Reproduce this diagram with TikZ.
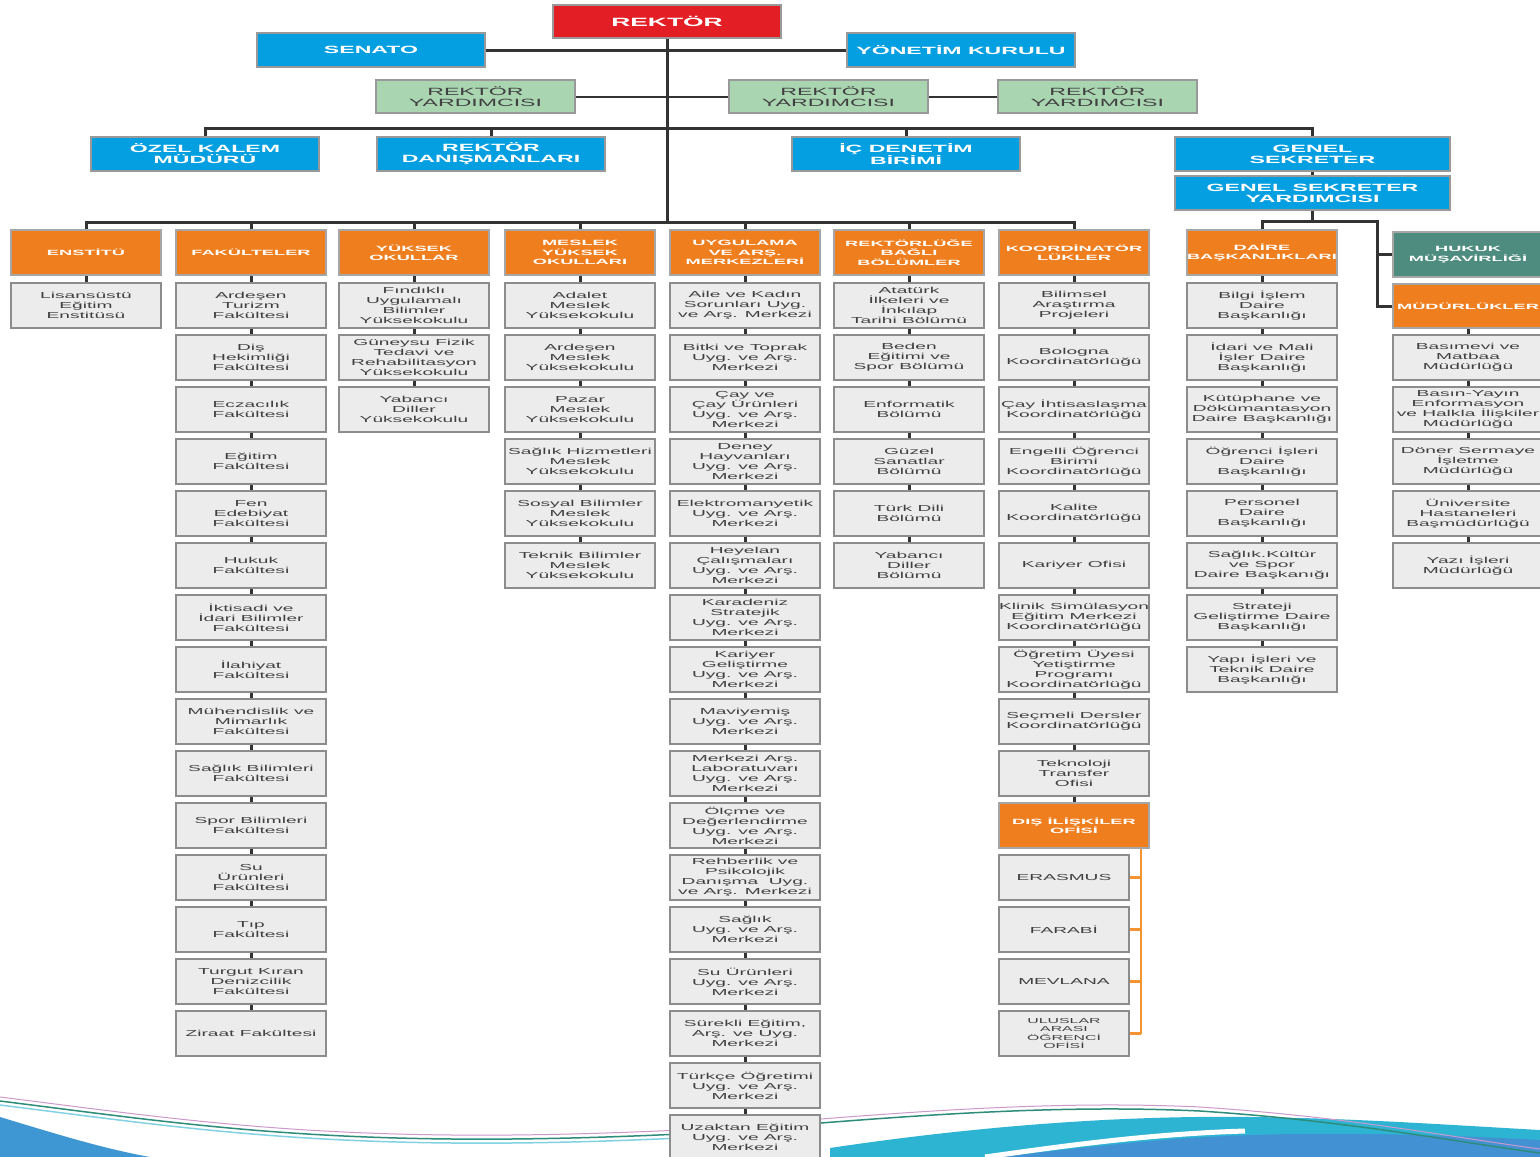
\documentclass[tikz,border=0pt]{standalone}
\usepackage{fontspec}
\setmainfont{Liberation Sans}
\newfontfamily\boxfont[FakeStretch=2.2]{Liberation Sans}
\newfontfamily\hdrfont[FakeStretch=2.4]{Liberation Sans}
\usetikzlibrary{backgrounds}
\definecolor{rektorred}{HTML}{E31E24}
\definecolor{kurulblue}{HTML}{049FE0}
\definecolor{yardgreen}{HTML}{A9D5B1}
\definecolor{birimorange}{HTML}{EE7E1E}
\definecolor{hukukteal}{HTML}{4D8C7E}
\definecolor{unitgray}{HTML}{ECECEC}
\definecolor{linkgray}{HTML}{333333}
\definecolor{disorange}{HTML}{F39332}
\definecolor{wavteal}{HTML}{2EB4D3}
\definecolor{wavblue}{HTML}{4191D3}
\definecolor{wavline}{HTML}{2E8C7A}

\begin{document}
\begin{tikzpicture}[x=1pt,y=-1pt,
  unit/.style={draw=black!45,line width=1.2pt,fill=unitgray,minimum width=150pt,minimum height=45pt,inner sep=0pt,align=center,text=black!75,font=\boxfont\fontsize{8.7}{10}\selectfont},
  head/.style={unit,fill=birimorange,draw=black!35,text=white,font=\hdrfont\bfseries\fontsize{7.6}{9.4}\selectfont},
  kurul/.style={draw=black!40,line width=1.2pt,fill=kurulblue,text=white,minimum width=228pt,minimum height=34pt,inner sep=0pt,align=center,font=\boxfont\bfseries\fontsize{10.5}{11}\selectfont},
  yard/.style={kurul,fill=yardgreen,text=black!75,minimum width=199pt,minimum height=33pt,font=\boxfont\fontsize{10.5}{11}\selectfont},
  link/.style={draw=linkgray,line width=3pt},
  dislink/.style={draw=disorange,line width=2.5pt}]
\useasboundingbox (0,0) rectangle (1540,1157);

% top of the chart
\node[kurul,fill=rektorred,minimum height=33pt,font=\boxfont\bfseries\fontsize{12}{13}\selectfont] (rektor) at (667,21.5) {REKTÖR};
\node[kurul] (senato) at (371,50) {SENATO};
\node[kurul] (yonetim) at (961,50) {YÖNETİM KURULU};
\node[yard] (ry1) at (475.5,96.5) {REKTÖR\\YARDIMCISI};
\node[yard] (ry2) at (828.5,96.5) {REKTÖR\\YARDIMCISI};
\node[yard] (ry3) at (1097.5,96.5) {REKTÖR\\YARDIMCISI};
\node[kurul] (ozel) at (205,154) {ÖZEL KALEM\\MÜDÜRÜ};
\node[kurul] (dan) at (491,154) {REKTÖR\\DANIŞMANLARI};
\node[kurul] (icd) at (906,154) {İÇ DENETİM\\BİRİMİ};
\node[kurul,minimum width=275pt] (gensek) at (1312.5,154) {GENEL\\SEKRETER};
\node[kurul,minimum width=275pt] (gsy) at (1312.5,193) {GENEL SEKRETER\\YARDIMCISI};

% orange heads
\node[head] (enst) at (86,252.5) {ENSTİTÜ};
\node[head] (fak) at (251,252.5) {FAKÜLTELER};
\node[head] (yuk) at (414,252.5) {YÜKSEK\\OKULLAR};
\node[head] (mes) at (580,252.5) {MESLEK\\YÜKSEK\\OKULLARI};
\node[head] (uyg) at (745,252.5) {UYGULAMA\\VE ARŞ.\\MERKEZLERİ};
\node[head] (bol) at (909,252.5) {REKTÖRLÜĞE\\BAĞLI\\BÖLÜMLER};
\node[head] (koo) at (1074,252.5) {KOORDİNATÖR\\LÜKLER};
\node[head] (dai) at (1262,252.5) {DAİRE\\BAŞKANLIKLARI};
\node[head,fill=hukukteal] (huk) at (1468,254.5) {HUKUK\\MÜŞAVİRLİĞİ};
\node[head,minimum height=44pt] (mud) at (1468,306) {MÜDÜRLÜKLER};

% enstitu
\node[unit] (enst1) at (86,305.5) {Lisansüstü\\Eğitim\\Enstitüsü};

% fakulteler
\node[unit] (fak1) at (251,305.5) {Ardeşen\\Turizm\\Fakültesi};
\node[unit] (fak2) at (251,357.5) {Diş\\Hekimliği\\Fakültesi};
\node[unit] (fak3) at (251,409.5) {Eczacılık\\Fakültesi};
\node[unit] (fak4) at (251,461.5) {Eğitim\\Fakültesi};
\node[unit] (fak5) at (251,513.5) {Fen\\Edebiyat\\Fakültesi};
\node[unit] (fak6) at (251,565.5) {Hukuk\\Fakültesi};
\node[unit] (fak7) at (251,617.5) {İktisadi ve\\İdari Bilimler\\Fakültesi};
\node[unit] (fak8) at (251,669.5) {İlahiyat\\Fakültesi};
\node[unit] (fak9) at (251,721.5) {Mühendislik ve\\Mimarlık\\Fakültesi};
\node[unit] (fak10) at (251,773.5) {Sağlık Bilimleri\\Fakültesi};
\node[unit] (fak11) at (251,825.5) {Spor Bilimleri\\Fakültesi};
\node[unit] (fak12) at (251,877.5) {Su\\Ürünleri\\Fakültesi};
\node[unit] (fak13) at (251,929.5) {Tıp\\Fakültesi};
\node[unit] (fak14) at (251,981.5) {Turgut Kıran\\Denizcilik\\Fakültesi};
\node[unit] (fak15) at (251,1033.5) {Ziraat Fakültesi};

% yuksekokullar
\node[unit] (yuk1) at (414,305.5) {Fındıklı\\Uygulamalı\\Bilimler\\Yüksekokulu};
\node[unit] (yuk2) at (414,357.5) {Güneysu Fizik\\Tedavi ve\\Rehabilitasyon\\Yüksekokulu};
\node[unit] (yuk3) at (414,409.5) {Yabancı\\Diller\\Yüksekokulu};

% meslek yuksekokullari
\node[unit] (mes1) at (580,305.5) {Adalet\\Meslek\\Yüksekokulu};
\node[unit] (mes2) at (580,357.5) {Ardeşen\\Meslek\\Yüksekokulu};
\node[unit] (mes3) at (580,409.5) {Pazar\\Meslek\\Yüksekokulu};
\node[unit] (mes4) at (580,461.5) {Sağlık Hizmetleri\\Meslek\\Yüksekokulu};
\node[unit] (mes5) at (580,513.5) {Sosyal Bilimler\\Meslek\\Yüksekokulu};
\node[unit] (mes6) at (580,565.5) {Teknik Bilimler\\Meslek\\Yüksekokulu};

% merkezler
\node[unit] (uyg1) at (745,305.5) {Aile ve Kadın\\Sorunları Uyg.\\ve Arş. Merkezi};
\node[unit] (uyg2) at (745,357.5) {Bitki ve Toprak\\Uyg. ve Arş.\\Merkezi};
\node[unit] (uyg3) at (745,409.5) {Çay ve\\Çay Ürünleri\\Uyg. ve Arş.\\Merkezi};
\node[unit] (uyg4) at (745,461.5) {Deney\\Hayvanları\\Uyg. ve Arş.\\Merkezi};
\node[unit] (uyg5) at (745,513.5) {Elektromanyetik\\Uyg. ve Arş.\\Merkezi};
\node[unit] (uyg6) at (745,565.5) {Heyelan\\Çalışmaları\\Uyg. ve Arş.\\Merkezi};
\node[unit] (uyg7) at (745,617.5) {Karadeniz\\Stratejik\\Uyg. ve Arş.\\Merkezi};
\node[unit] (uyg8) at (745,669.5) {Kariyer\\Geliştirme\\Uyg. ve Arş.\\Merkezi};
\node[unit] (uyg9) at (745,721.5) {Maviyemiş\\Uyg. ve Arş.\\Merkezi};
\node[unit] (uyg10) at (745,773.5) {Merkezi Arş.\\Laboratuvarı\\Uyg. ve Arş.\\Merkezi};
\node[unit] (uyg11) at (745,825.5) {Ölçme ve\\Değerlendirme\\Uyg. ve Arş.\\Merkezi};
\node[unit] (uyg12) at (745,877.5) {Rehberlik ve\\Psikolojik\\Danışma\ \ Uyg.\\ve Arş. Merkezi};
\node[unit] (uyg13) at (745,929.5) {Sağlık\\Uyg. ve Arş.\\Merkezi};
\node[unit] (uyg14) at (745,981.5) {Su Ürünleri\\Uyg. ve Arş.\\Merkezi};
\node[unit] (uyg15) at (745,1033.5) {Sürekli Eğitim,\\Arş. ve Uyg.\\Merkezi};
\node[unit] (uyg16) at (745,1085.5) {Türkçe Öğretimi\\Uyg. ve Arş.\\Merkezi};
\node[unit] (uyg17) at (745,1137.5) {Uzaktan Eğitim\\Uyg. ve Arş.\\Merkezi};

% bolumler
\node[unit] (bol1) at (909,305.5) {Atatürk\\İlkeleri ve\\İnkılap\\Tarihi Bölümü};
\node[unit] (bol2) at (909,357.5) {Beden\\Eğitimi ve\\Spor Bölümü};
\node[unit] (bol3) at (909,409.5) {Enformatik\\Bölümü};
\node[unit] (bol4) at (909,461.5) {Güzel\\Sanatlar\\Bölümü};
\node[unit] (bol5) at (909,513.5) {Türk Dili\\Bölümü};
\node[unit] (bol6) at (909,565.5) {Yabancı\\Diller\\Bölümü};

% koordinatorlukler
\node[unit] (koo1) at (1074,305.5) {Bilimsel\\Araştırma\\Projeleri};
\node[unit] (koo2) at (1074,357.5) {Bologna\\Koordinatörlüğü};
\node[unit] (koo3) at (1074,409.5) {Çay İhtisaslaşma\\Koordinatörlüğü};
\node[unit] (koo4) at (1074,461.5) {Engelli Öğrenci\\Birimi\\Koordinatörlüğü};
\node[unit] (koo5) at (1074,513.5) {Kalite\\Koordinatörlüğü};
\node[unit] (koo6) at (1074,565.5) {Kariyer Ofisi};
\node[unit] (koo7) at (1074,617.5) {Klinik Simülasyon\\Eğitim Merkezi\\Koordinatörlüğü};
\node[unit] (koo8) at (1074,669.5) {Öğretim Üyesi\\Yetiştirme\\Programı\\Koordinatörlüğü};
\node[unit] (koo9) at (1074,721.5) {Seçmeli Dersler\\Koordinatörlüğü};
\node[unit] (koo10) at (1074,773.5) {Teknoloji\\Transfer\\Ofisi};
\node[head] (dis) at (1074,825.5) {DIŞ İLİŞKİLER\\OFİSİ};
\node[unit,minimum width=130pt] (eras) at (1064,877.5) {ERASMUS};
\node[unit,minimum width=130pt] (farabi) at (1064,929.5) {FARABİ};
\node[unit,minimum width=130pt] (mevlana) at (1064,981.5) {MEVLANA};
\node[unit,minimum width=130pt,font=\boxfont\fontsize{7.2}{8.3}\selectfont] (ulusl) at (1064,1033.5) {ULUSLAR\\ARASI\\ÖĞRENCİ\\OFİSİ};

% daire baskanliklari
\node[unit] (dai1) at (1262,305.5) {Bilgi İşlem\\Daire\\Başkanlığı};
\node[unit] (dai2) at (1262,357.5) {İdari ve Mali\\İşler Daire\\Başkanlığı};
\node[unit] (dai3) at (1262,409.5) {Kütüphane ve\\Dökümantasyon\\Daire Başkanlığı};
\node[unit] (dai4) at (1262,461.5) {Öğrenci İşleri\\Daire\\Başkanlığı};
\node[unit] (dai5) at (1262,513.5) {Personel\\Daire\\Başkanlığı};
\node[unit] (dai6) at (1262,565.5) {Sağlık.Kültür\\ve Spor\\Daire Başkanığı};
\node[unit] (dai7) at (1262,617.5) {Strateji\\Geliştirme Daire\\Başkanlığı};
\node[unit] (dai8) at (1262,669.5) {Yapı İşleri ve\\Teknik Daire\\Başkanlığı};

% mudurlukler
\node[unit] (mud1) at (1468,357.5) {Basımevi ve\\Matbaa\\Müdürlüğü};
\node[unit] (mud2) at (1468,409.5) {Basın-Yayın\\Enformasyon\\ve Halkla İlişkiler\\Müdürlüğü};
\node[unit] (mud3) at (1468,461.5) {Döner Sermaye\\İşletme\\Müdürlüğü};
\node[unit] (mud4) at (1468,513.5) {Üniversite\\Hastaneleri\\Başmüdürlüğü};
\node[unit] (mud5) at (1468,565.5) {Yazı İşleri\\Müdürlüğü};

\coordinate (bus) at (667,222);
\coordinate (stbar) at (667,128);
\coordinate (gsbus) at (1377,221);
\coordinate (disend) at (1141,1033.5);

\begin{scope}[on background layer]
% wave at the bottom
\fill[white] (0,0) rectangle (1540,1157);
\fill[wavblue!85!wavteal] (0,1117) .. controls (50,1132) and (100,1148) .. (150,1157) -- (0,1157) -- cycle;
\fill[wavteal] (830,1157) -- (830,1148) .. controls (950,1130) and (1100,1115) .. (1250,1117) .. controls (1350,1118) and (1450,1125) .. (1540,1130) -- (1540,1157) -- cycle;
\fill[wavblue] (1000,1157) .. controls (1080,1148) and (1160,1138) .. (1250,1135) .. controls (1350,1132) and (1450,1135) .. (1540,1140) -- (1540,1157) -- cycle;
\draw[white,line width=5pt] (985,1157) .. controls (1070,1145) and (1150,1134) .. (1245,1131);
\draw[red!50!blue!40,line width=1pt] (0,1097) .. controls (200,1122) and (350,1147) .. (700,1129) .. controls (900,1112) and (1050,1100) .. (1200,1107) .. controls (1350,1117) and (1450,1137) .. (1540,1149);
\draw[wavline,line width=1.5pt] (0,1101) .. controls (200,1126) and (350,1151) .. (700,1133) .. controls (900,1116) and (1050,1104) .. (1200,1111) .. controls (1350,1121) and (1450,1141) .. (1540,1153);
\draw[wavteal!60,line width=1.5pt] (0,1105) .. controls (200,1130) and (350,1155) .. (700,1137);

% connectors
\draw[link] (rektor) -- (bus);
\draw[link] (senato) -- (yonetim);
\draw[link,line width=2pt] (ry1) -- (ry2) (ry2) -- (ry3);
\draw[link] (ozel.north) |- (stbar) -| (gensek.north);
\draw[link] (dan.north) -- (dan.north |- stbar);
\draw[link] (icd.north) -- (icd.north |- stbar);
\draw[link] (gensek) -- (gsy);
\draw[link] (enst.north) |- (bus) -| (koo.north);
\draw[link] (fak.north) -- (fak.north |- bus);
\draw[link] (yuk.north) -- (yuk.north |- bus);
\draw[link] (mes.north) -- (mes.north |- bus);
\draw[link] (uyg.north) -- (uyg.north |- bus);
\draw[link] (bol.north) -- (bol.north |- bus);
\draw[link] (gsy) -- (gsy |- gsbus);
\draw[link] (dai.north) |- (gsbus) -- (gsbus |- mud) -- (mud);
\draw[link] (gsbus |- huk) -- (huk);
\draw[link] (enst) -- (enst1);
\draw[link] (fak) -- (fak15);
\draw[link] (yuk) -- (yuk3);
\draw[link] (mes) -- (mes6);
\draw[link] (uyg) -- (uyg17);
\draw[link] (bol) -- (bol6);
\draw[link] (koo) -- (dis);
\draw[link] (dai) -- (dai8);
\draw[link] (mud) -- (mud5);
\draw[dislink] (dis.south -| disend) -- (disend);
\draw[dislink] (eras) -- (eras -| disend);
\draw[dislink] (farabi) -- (farabi -| disend);
\draw[dislink] (mevlana) -- (mevlana -| disend);
\draw[dislink] (ulusl) -- (disend);
\end{scope}
\end{tikzpicture}
\end{document}
